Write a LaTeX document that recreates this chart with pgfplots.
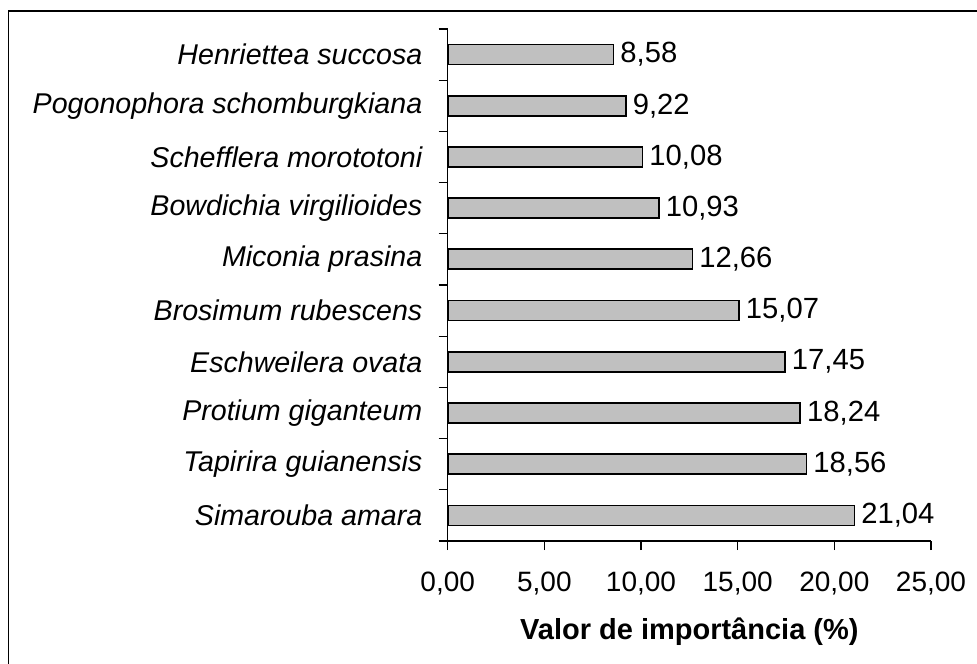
\documentclass[border=0pt]{standalone}
\usepackage{pgfplots}
\pgfplotsset{compat=1.18}
\usepackage{fontspec}
\setmainfont{Liberation Sans}
\definecolor{bargray}{HTML}{C0C0C0}
\begin{document}
\begin{tikzpicture}
\path[use as bounding box] (0,0) rectangle (488.5pt,331.5pt);
\draw[line width=0.8pt] (4.25pt,-5pt) -- (4.25pt,326pt) -- (495pt,326pt);
\begin{axis}[
  at={(223.85pt,61pt)}, anchor=south west,
  scale only axis, width=241.65pt, height=256pt,
  xbar, bar width=10pt,
  xmin=0, xmax=25, ymin=-0.5, ymax=9.5,
  axis x line*=bottom, axis y line*=left,
  axis line style={line width=0.6pt, -},
  tick align=outside,
  major tick length=4.5pt,
  tick style={line width=0.6pt, black},
  xtick={0,5,10,15,20,25},
  ytick={-0.5,0.5,1.5,2.5,3.5,4.5,5.5,6.5,7.5,8.5,9.5},
  y tick label as interval,
  yticklabels={Simarouba amara, Tapirira guianensis, Protium giganteum, Eschweilera ovata, Brosimum rubescens, Miconia prasina, Bowdichia virgilioides, Schefflera morototoni, Pogonophora schomburgkiana, Henriettea succosa},
  yticklabel style={font=\fontsize{14.3}{16}\selectfont\itshape, anchor=east, inner sep=0pt, xshift=-8pt},
  xticklabel style={font=\fontsize{14}{16}\selectfont, inner sep=0pt, yshift=-11pt},
  xticklabel={\pgfmathprintnumber[fixed,fixed zerofill,precision=2,use comma,assume math mode=true]{\tick}},
  xlabel={\textbf{Valor de importância (\%)}},
  xlabel style={font=\fontsize{14.5}{16}\selectfont, inner sep=0pt, yshift=-11pt},
  point meta=x,
  nodes near coords={\pgfmathprintnumber[fixed,fixed zerofill,precision=2,use comma,assume math mode=true]{\pgfplotspointmeta}},
  nodes near coords style={font=\fontsize{14.6}{16}\selectfont, anchor=west, inner sep=0pt, xshift=3pt, black},
  clip=false,
]
\addplot[fill=bargray, draw=black, line width=0.9pt] coordinates {
  (21.04,0) (18.56,1) (18.24,2) (17.45,3) (15.07,4) (12.66,5) (10.93,6) (10.08,7) (9.22,8) (8.58,9)
};
\end{axis}
\end{tikzpicture}
\end{document}
